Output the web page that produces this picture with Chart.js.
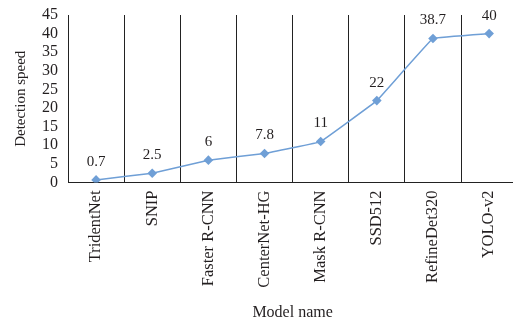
<!DOCTYPE html>
<html>
<head>
<meta charset="utf-8">
<script src="https://cdn.jsdelivr.net/npm/chart.js@4/dist/chart.umd.min.js"></script>
<style>
  html, body { margin: 0; padding: 0; background: #fff; overflow: hidden; }
  #wrap { width: 522px; height: 326px; }
</style>
</head>
<body>
<div id="wrap"><canvas id="c" width="522" height="326"></canvas></div>
<script>
// Detection speed of each model
const models = ['TridentNet', 'SNIP', 'Faster R-CNN', 'CenterNet-HG', 'Mask R-CNN', 'SSD512', 'RefineDet320', 'YOLO-v2'];
const speeds = [0.7, 2.5, 6, 7.8, 11, 22, 38.7, 40];
const yTicks = [0, 5, 10, 15, 20, 25, 30, 35, 40, 45];

const FONT = "'Liberation Serif', 'Times New Roman', serif";
const INK = '#231f20';
const BLUE = '#6f9fd6';

// Value label above each marker
const valueLabels = {
  id: 'valueLabels',
  afterDatasetsDraw(chart) {
    const ctx = chart.ctx;
    const meta = chart.getDatasetMeta(0);
    ctx.save();
    ctx.font = '15px ' + FONT;
    ctx.fillStyle = INK;
    ctx.textAlign = 'center';
    ctx.textBaseline = 'middle';
    meta.data.forEach((pt, i) => {
      ctx.fillText(String(speeds[i]), pt.x, pt.y - 18);
    });
    ctx.restore();
  }
};

new Chart(document.getElementById('c'), {
  type: 'line',
  data: {
    labels: models,
    datasets: [{
      data: speeds,
      borderColor: BLUE,
      backgroundColor: BLUE,
      borderWidth: 1.5,
      tension: 0.04,
      pointStyle: 'rectRot',
      pointRadius: 4.8,
      pointHoverRadius: 4.8,
      pointBorderWidth: 0
    }]
  },
  options: {
    responsive: false,
    animation: false,
    layout: { padding: { top: 15, right: 0, left: 0, bottom: 0 } },
    plugins: {
      legend: { display: false },
      tooltip: { enabled: false }
    },
    scales: {
      x: {
        offset: true,
        grid: { offset: true, color: '#222', lineWidth: 1, drawTicks: false },
        border: { display: true, color: '#222', width: 1 },
        ticks: {
          color: INK,
          font: { family: FONT, size: 16.5 },
          maxRotation: 90,
          minRotation: 90,
          padding: 8,
          autoSkip: false
        },
        title: {
          display: true,
          text: 'Model name',
          color: INK,
          font: { family: FONT, size: 16 },
          padding: { top: 0, bottom: 4 }
        },
        afterFit(s) {
          s.height = 143.5;
          s.paddingLeft = 0;
          s.paddingRight = 0;
        }
      },
      y: {
        min: 0,
        max: 45,
        afterBuildTicks(s) { s.ticks = yTicks.map(v => ({ value: v })); },
        grid: { display: false, drawTicks: false },
        border: { display: true, color: '#222', width: 1 },
        ticks: {
          color: INK,
          font: { family: FONT, size: 16 },
          padding: 10,
          autoSkip: false
        },
        title: {
          display: true,
          text: 'Detection speed',
          color: INK,
          font: { family: FONT, size: 15 },
          padding: { top: 12, bottom: 0 }
        },
        afterFit(s) {
          s.width = 68;
          s.paddingTop = 0;
          s.paddingBottom = 0;
        }
      }
    }
  },
  plugins: [valueLabels]
});
</script>
</body>
</html>
